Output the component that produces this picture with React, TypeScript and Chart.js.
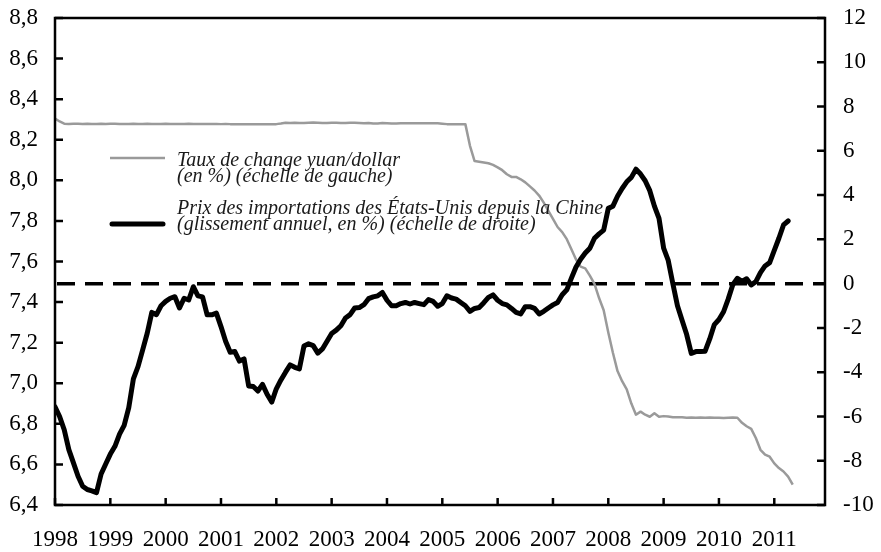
import React, { useEffect, useRef } from "react";
import { Chart, registerables } from "chart.js";

Chart.register(...registerables);

// Monthly series starting January 1998 (index 0 = Jan 1998)
const exchangeRate: number[] = [
  8.305, 8.29, 8.279, 8.278, 8.279, 8.279, 8.278, 8.279, 8.278, 8.278,
  8.279, 8.278, 8.279, 8.279, 8.278, 8.278, 8.278, 8.279, 8.278, 8.278,
  8.279, 8.278, 8.278, 8.278, 8.279, 8.278, 8.278, 8.278, 8.278, 8.279,
  8.278, 8.278, 8.278, 8.278, 8.278, 8.278, 8.277, 8.278, 8.277, 8.277,
  8.277, 8.277, 8.277, 8.277, 8.277, 8.277, 8.277, 8.277, 8.277, 8.28,
  8.284, 8.283, 8.284, 8.283, 8.283, 8.284, 8.285, 8.284, 8.283, 8.283,
  8.284, 8.284, 8.283, 8.283, 8.284, 8.284, 8.283, 8.281, 8.283, 8.28,
  8.28, 8.282, 8.281, 8.28, 8.28, 8.281, 8.281, 8.281, 8.281, 8.281,
  8.281, 8.281, 8.281, 8.281, 8.279, 8.277, 8.277, 8.277, 8.277, 8.277,
  8.17, 8.095, 8.092, 8.088, 8.084, 8.076, 8.064, 8.05, 8.03, 8.017,
  8.017, 8.005, 7.99, 7.97, 7.95, 7.925, 7.89, 7.85, 7.81, 7.77,
  7.745, 7.71, 7.66, 7.61, 7.575, 7.566, 7.53, 7.49, 7.42, 7.36,
  7.25, 7.15, 7.06, 7.01, 6.97, 6.9, 6.845, 6.86, 6.845, 6.835,
  6.852, 6.835, 6.838, 6.836, 6.832, 6.833, 6.832, 6.83, 6.831, 6.83,
  6.831, 6.83, 6.831, 6.83, 6.83, 6.829, 6.83, 6.831, 6.83, 6.805,
  6.788, 6.775, 6.73, 6.672, 6.648, 6.638, 6.605, 6.582, 6.565, 6.54,
  6.5,
];

const importPrices: number[] = [
  -5.56, -6.0, -6.6, -7.5, -8.1, -8.7, -9.15, -9.3, -9.36, -9.44,
  -8.6, -8.15, -7.7, -7.35, -6.8, -6.4, -5.6, -4.3, -3.75, -3.0,
  -2.24, -1.3, -1.4, -1.0, -0.8, -0.66, -0.59, -1.1, -0.66, -0.74,
  -0.14, -0.55, -0.6, -1.41, -1.41, -1.33, -1.94, -2.6, -3.1, -3.07,
  -3.5, -3.4, -4.62, -4.65, -4.85, -4.55, -5.0, -5.35, -4.75, -4.35,
  -4.0, -3.67, -3.78, -3.85, -2.82, -2.72, -2.8, -3.14, -2.95, -2.6,
  -2.25, -2.1, -1.9, -1.55, -1.4, -1.1, -1.08, -0.95, -0.68, -0.6,
  -0.55, -0.4, -0.75, -1.0, -1.0, -0.9, -0.85, -0.92, -0.85, -0.9,
  -0.95, -0.72, -0.8, -1.02, -0.9, -0.55, -0.65, -0.7, -0.85, -1.0,
  -1.25, -1.12, -1.08, -0.86, -0.62, -0.51, -0.75, -0.9, -0.96, -1.12,
  -1.3, -1.37, -1.04, -1.04, -1.12, -1.37, -1.25, -1.1, -0.96, -0.85,
  -0.5, -0.28, 0.25, 0.75, 1.1, 1.38, 1.6, 2.05, 2.25, 2.42,
  3.4, 3.5, 3.95, 4.3, 4.6, 4.8, 5.17, 4.95, 4.65, 4.2,
  3.5, 2.95, 1.6, 1.05, 0.0, -1.0, -1.65, -2.3, -3.15, -3.07,
  -3.07, -3.05, -2.5, -1.85, -1.62, -1.27, -0.7, -0.05, 0.24, 0.1,
  0.22, -0.06, 0.09, 0.5, 0.8, 0.95, 1.5, 2.05, 2.65, 2.83,
];

const yearLabels: string[] = [
  "1998", "1999", "2000", "2001", "2002", "2003", "2004",
  "2005", "2006", "2007", "2008", "2009", "2010", "2011",
];

const leftTicks: number[] = [6.4, 6.6, 6.8, 7.0, 7.2, 7.4, 7.6, 7.8, 8.0, 8.2, 8.4, 8.6, 8.8];
const rightTicks: number[] = [-10, -8, -6, -4, -2, 0, 2, 4, 6, 8, 10, 12];

const legendRate: string[] = ["Taux de change yuan/dollar", "(en %) (échelle de gauche)"];
const legendPrices: string[] = [
  "Prix des importations des États-Unis depuis la Chine",
  "(glissement annuel, en %) (échelle de droite)",
];

const FONT = '"Liberation Serif", "Times New Roman", serif';
const GRAY = "#9a9a9a";

const decorPlugin = {
  id: "decor",
  beforeDatasetsDraw(chart: any) {
    const { ctx, chartArea } = chart;
    const yR = chart.scales.yR;
    const y0 = yR.getPixelForValue(0);
    ctx.save();
    ctx.strokeStyle = "#000";
    ctx.lineWidth = 3.5;
    ctx.setLineDash([18, 10]);
    ctx.beginPath();
    ctx.moveTo(chartArea.left + 2, y0);
    ctx.lineTo(chartArea.right, y0);
    ctx.stroke();
    ctx.restore();
  },
  afterDraw(chart: any) {
    const { ctx, chartArea } = chart;
    const { left, right, top, bottom } = chartArea;
    const x = chart.scales.x;
    const yL = chart.scales.yL;
    const yR = chart.scales.yR;
    ctx.save();
    ctx.strokeStyle = "#000";
    ctx.lineWidth = 2.5;
    ctx.setLineDash([]);
    ctx.strokeRect(left, top, right - left, bottom - top);
    ctx.beginPath();
    leftTicks.forEach((v) => {
      const py = yL.getPixelForValue(v);
      ctx.moveTo(left, py);
      ctx.lineTo(left + 8, py);
    });
    rightTicks.forEach((v) => {
      const py = yR.getPixelForValue(v);
      ctx.moveTo(right, py);
      ctx.lineTo(right - 8, py);
    });
    yearLabels.forEach((_, i) => {
      const px = x.getPixelForValue(i * 12);
      ctx.moveTo(px, bottom);
      ctx.lineTo(px, bottom - 7);
    });
    ctx.stroke();

    // Legend
    ctx.lineCap = "butt";
    ctx.strokeStyle = GRAY;
    ctx.lineWidth = 2.5;
    ctx.beginPath();
    ctx.moveTo(110, 158);
    ctx.lineTo(165, 158);
    ctx.stroke();
    ctx.strokeStyle = "#000";
    ctx.lineWidth = 5;
    ctx.lineCap = "round";
    ctx.beginPath();
    ctx.moveTo(112, 224);
    ctx.lineTo(163, 224);
    ctx.stroke();

    ctx.fillStyle = "#1a1a1a";
    ctx.font = `italic 20px ${FONT}`;
    ctx.textBaseline = "alphabetic";
    ctx.textAlign = "left";
    ctx.fillText(legendRate[0], 177, 166);
    ctx.fillText(legendRate[1], 177, 182);
    ctx.fillText(legendPrices[0], 177, 214);
    ctx.fillText(legendPrices[1], 177, 230);
    ctx.restore();
  },
};

export default function App() {
  const canvasRef = useRef<HTMLCanvasElement | null>(null);

  useEffect(() => {
    document.body.style.margin = "0";
    const canvas = canvasRef.current;
    if (!canvas) return;
    const tickFont = { family: FONT, size: 23 };
    const noPadY = (w: number) => (scale: any) => {
      scale.width = w;
      scale.paddingTop = 0;
      scale.paddingBottom = 0;
    };
    const chart = new Chart(canvas, {
      type: "line",
      data: {
        datasets: [
          {
            label: legendPrices[0],
            data: importPrices.map((v, i) => ({ x: i, y: v })),
            yAxisID: "yR",
            borderColor: "#000",
            borderWidth: 5,
            pointRadius: 0,
            borderJoinStyle: "round",
            borderCapStyle: "round",
            tension: 0,
            order: 0,
          },
          {
            label: legendRate[0],
            data: exchangeRate.map((v, i) => ({ x: i, y: v })),
            yAxisID: "yL",
            borderColor: GRAY,
            borderWidth: 2.5,
            pointRadius: 0,
            borderJoinStyle: "round",
            tension: 0,
            order: 1,
          },
        ],
      },
      options: {
        responsive: false,
        animation: false,
        events: [],
        layout: { padding: { top: 18, left: 0, right: 0, bottom: 0 } },
        plugins: { legend: { display: false }, tooltip: { enabled: false } },
        scales: {
          x: {
            type: "linear",
            position: "bottom",
            min: 0,
            max: 167,
            grid: { display: false, drawTicks: false },
            border: { display: false },
            afterBuildTicks: (scale: any) => {
              scale.ticks = yearLabels.map((_, i) => ({ value: i * 12 }));
            },
            afterFit: (scale: any) => {
              scale.height = 47;
              scale.paddingLeft = 0;
              scale.paddingRight = 0;
            },
            ticks: {
              autoSkip: false,
              maxRotation: 0,
              padding: 21,
              color: "#000",
              font: tickFont,
              callback: (v: any) => yearLabels[Math.round(Number(v) / 12)],
            },
          },
          yL: {
            type: "linear",
            position: "left",
            min: 6.4,
            max: 8.8,
            grid: { display: false, drawTicks: false },
            border: { display: false },
            afterBuildTicks: (scale: any) => {
              scale.ticks = leftTicks.map((v) => ({ value: v }));
            },
            afterFit: noPadY(55),
            ticks: {
              padding: 17,
              color: "#000",
              font: tickFont,
              callback: (v: any) => Number(v).toFixed(1).replace(".", ","),
            },
          },
          yR: {
            type: "linear",
            position: "right",
            min: -10,
            max: 12,
            grid: { display: false, drawTicks: false },
            border: { display: false },
            afterBuildTicks: (scale: any) => {
              scale.ticks = rightTicks.map((v) => ({ value: v }));
            },
            afterFit: noPadY(56),
            ticks: {
              padding: 18,
              color: "#000",
              font: tickFont,
              callback: (v: any) => String(v),
            },
          },
        },
      },
      plugins: [decorPlugin],
    } as any);
    return () => chart.destroy();
  }, []);

  return (
    <div style={{ position: "absolute", left: 0, top: 0, width: 881, height: 552, background: "#fff" }}>
      <canvas ref={canvasRef} width={881} height={552} style={{ display: "block" }} />
    </div>
  );
}
